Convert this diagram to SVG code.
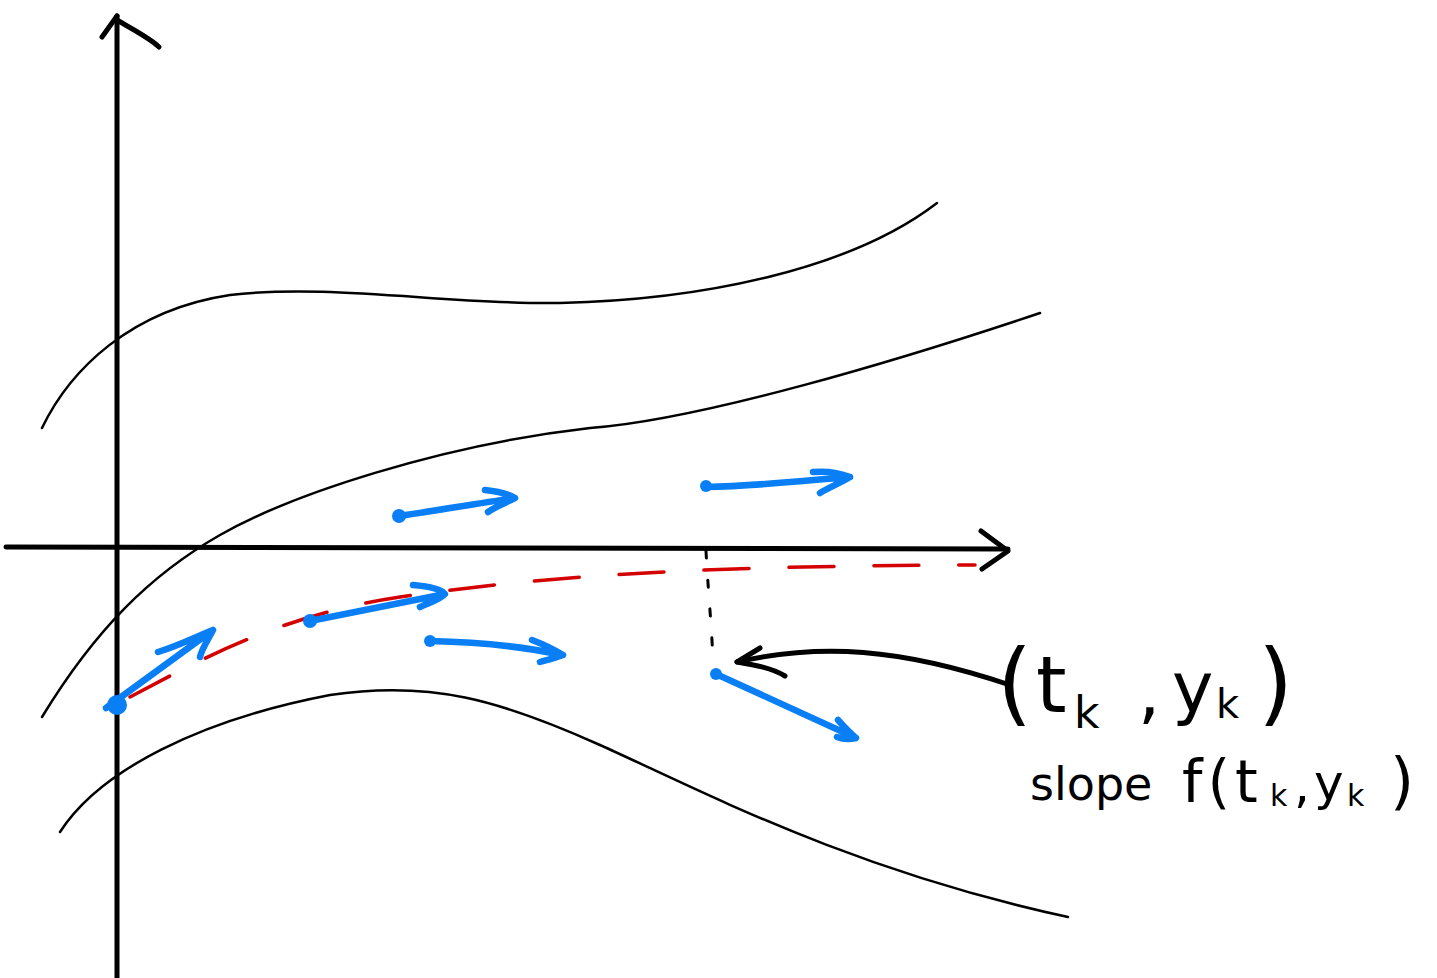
<svg xmlns="http://www.w3.org/2000/svg" width="1437" height="978" viewBox="0 0 1437 978">
<style>
.ax{fill:none;stroke:#000;stroke-width:5;stroke-linecap:round;stroke-linejoin:round}
.cv{fill:none;stroke:#000;stroke-width:2.5;stroke-linecap:round}
.bl{fill:none;stroke:#0a7ff5;stroke-width:6.5;stroke-linecap:round;stroke-linejoin:round}
.dot{fill:#0a7ff5}
.rd{fill:none;stroke:#d40000;stroke-width:3.5;stroke-linecap:round;stroke-dasharray:45 40}
.tx{font-family:"DejaVu Sans","Liberation Sans",sans-serif;fill:#000}
</style>
<rect width="1437" height="978" fill="#fff"/>
<g id="axes">
<path class="ax" d="M117,978 L117,16"/>
<path class="ax" d="M102,37 L117,16 M117,20 C130,28 150,38 159,47"/>
<path class="ax" d="M6,547 L1008,549"/>
<path class="ax" d="M981,531 L1008,551 L982,569"/>
</g>
<g id="solution-curves">
<path class="cv" d="M42,428 C70,370 130,310 230,295 C330,283 450,305 560,303 C700,300 850,270 937,203"/>
<path class="cv" d="M42,717 C95,630 150,575 220,535 C290,495 440,445 590,428 C700,420 900,360 1040,313"/>
<path class="cv" d="M60,832 C100,770 200,720 330,695 C430,680 500,700 600,745 C700,790 850,870 1068,917"/>
</g>
<g id="euler-path">
<path class="rd" d="M130,697 C200,660 280,615 400,597 C550,575 700,566 975,565"/>
</g>
<g id="slope-arrows">
<circle class="dot" cx="117" cy="705" r="10"/>
<path class="bl" d="M106,708 L213,630 M158,652 C180,645 200,635 213,630 C208,640 202,648 200,657"/>
<circle class="dot" cx="310" cy="621" r="7"/>
<path class="bl" d="M310,621 L445,594 M413,585 C425,586 440,588 445,594 C440,600 428,603 420,607"/>
<circle class="dot" cx="399" cy="516" r="7"/>
<path class="bl" d="M399,516 C440,510 480,503 515,498 M485,490 C495,491 508,494 515,498 C505,503 495,507 488,512"/>
<circle class="dot" cx="430" cy="641" r="6"/>
<path class="bl" d="M430,641 C480,642 525,647 563,655 M532,640 C545,645 555,650 563,655 C555,658 547,660 540,662"/>
<circle class="dot" cx="706" cy="486" r="6"/>
<path class="bl" d="M706,487 C760,486 810,480 850,477 M813,472 C825,471 840,473 850,477 C840,483 828,488 820,493"/>
<circle class="dot" cx="716" cy="674" r="6"/>
<path class="bl" d="M716,674 L856,738 M838,720 C845,728 850,733 856,738 C848,740 842,739 837,737"/>
</g>
<g id="connectors">
<path fill="none" stroke="#000" stroke-width="3" stroke-linecap="round" stroke-dasharray="7 22" d="M706,551 C708,590 712,630 713,662"/>
<path class="ax" d="M1010,685 C900,648 820,643 737,662"/>
<path class="ax" d="M760,648 L737,662 C755,665 772,668 785,676"/>
</g>
<g id="label">
<text class="tx" font-size="90" x="997" y="714">(</text>
<text class="tx" font-size="78" x="1036" y="712">t</text>
<text class="tx" font-size="44" x="1074" y="728">k</text>
<text class="tx" font-size="70" x="1138" y="716">,</text>
<text class="tx" font-size="70" x="1172" y="712">y</text>
<text class="tx" font-size="40" x="1216" y="718">k</text>
<text class="tx" font-size="90" x="1258" y="714">)</text>
<text class="tx" font-size="46" x="1030" y="800">slope</text>
<text class="tx" font-size="58" x="1182" y="802" letter-spacing="5">f(t</text>
<text class="tx" font-size="30" x="1270" y="806">k</text>
<text class="tx" font-size="50" x="1294" y="802">,</text>
<text class="tx" font-size="50" x="1314" y="800">y</text>
<text class="tx" font-size="30" x="1347" y="806">k</text>
<text class="tx" font-size="62" x="1390" y="802">)</text>
</g>
</svg>
